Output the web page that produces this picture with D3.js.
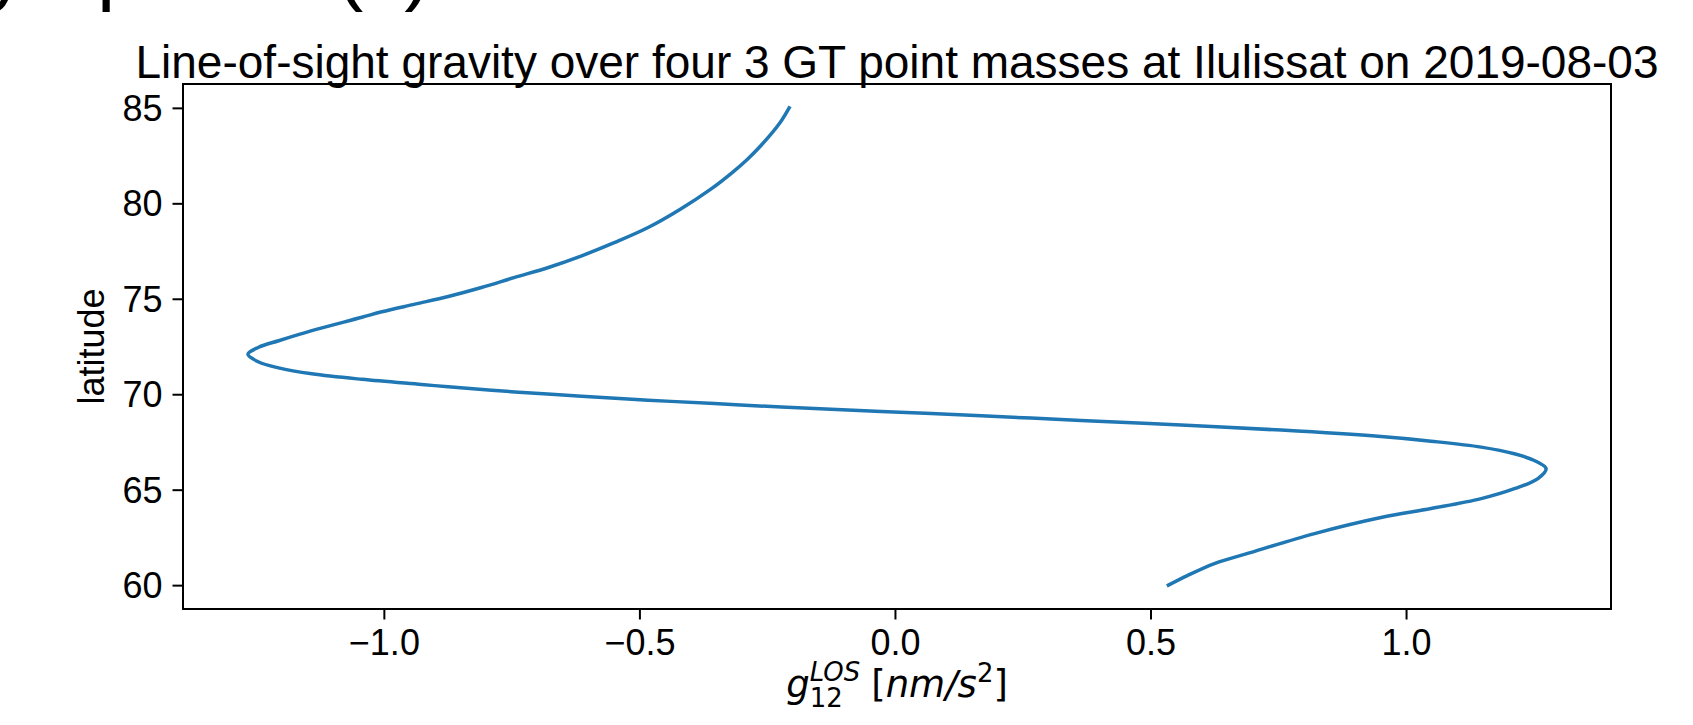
<!DOCTYPE html>
<html>
<head>
<meta charset="utf-8">
<script src="https://cdn.jsdelivr.net/npm/d3@7"></script>
<style>
  body { margin: 0; background: #fff; }
  svg { display: block; }
  .tick text { font-family: "Liberation Sans", Arial, sans-serif; fill: #000; }
</style>
</head>
<body>
<svg width="1693" height="725"></svg>
<script>
// latitude (deg) and line-of-sight gravity (nm/s^2)
const latitude = [60.0, 60.5, 61.13, 61.66, 62.7, 63.54, 64.01, 64.53, 65.05, 65.58, 66.1,
  66.53, 66.88, 67.23, 67.54, 67.78, 68.12, 68.39, 68.63, 68.87, 69.1, 69.33, 69.51, 69.69,
  69.9, 70.12, 70.39, 70.51, 70.78, 71.07, 71.38, 71.69, 72.09, 72.46, 72.8, 73.33, 74.03,
  74.32, 74.72, 75.12, 75.59, 76.12, 76.64, 77.25, 77.95, 78.73, 79.69, 80.73, 81.6, 82.3, 83.0,
  84.22, 85.0];
const gLos = [0.535, 0.572, 0.625, 0.69, 0.821, 0.951, 1.049, 1.147, 1.212, 1.258, 1.274,
  1.251, 1.212, 1.147, 1.049, 0.951, 0.756, 0.56, 0.364, 0.169, -0.027, -0.222, -0.353, -0.483,
  -0.613, -0.744, -0.874, -0.926, -1.043, -1.141, -1.206, -1.245, -1.266, -1.245, -1.206, -1.141, -1.043,
  -1.004, -0.939, -0.874, -0.809, -0.744, -0.678, -0.613, -0.548, -0.483, -0.42, -0.361, -0.319, -0.289, -0.263,
  -0.225, -0.207];

const xTicks = [-1.0, -0.5, 0.0, 0.5, 1.0];
const yTicks = [60, 65, 70, 75, 80, 85];
const titleText = "Line-of-sight gravity over four 3 GT point masses at Ilulissat on 2019-08-03";

const svg = d3.select("svg");
const margin = { top: 84, right: 82, bottom: 116, left: 183 };
const width = 1693 - margin.left - margin.right;
const height = 725 - margin.top - margin.bottom;
const tickFont = 36;

// matplotlib-like 5% padding on both axes
const xExt = d3.extent(gLos);
const xPad = (xExt[1] - xExt[0]) * 0.05;
const x = d3.scaleLinear().domain([xExt[0] - xPad, xExt[1] + xPad]).range([0, width]);
const yExt = d3.extent(latitude);
const yPad = (yExt[1] - yExt[0]) * 0.05;
const y = d3.scaleLinear().domain([yExt[0] - yPad, yExt[1] + yPad]).range([height, 0]);

const g = svg.append("g").attr("transform", `translate(${margin.left},${margin.top})`);

// cut-off heading above the figure (only descenders show)
svg.append("text")
  .attr("y", -4.7)
  .attr("font-family", "Liberation Sans, Arial, sans-serif")
  .attr("font-size", 82)
  .attr("fill", "#000")
  .call(t => {
    t.append("tspan").attr("x", -14).text("y");
    t.append("tspan").attr("x", 97).text("p");
    t.append("tspan").attr("x", 336).text("(c)");
  });

// axes
const xAxis = d3.axisBottom(x).tickValues(xTicks).tickFormat(d3.format(".1f")).tickSize(10.5).tickPadding(10);
const yAxis = d3.axisLeft(y).tickValues(yTicks).tickFormat(d3.format("d")).tickSize(10.5).tickPadding(10);

g.append("g").attr("transform", `translate(0,${height})`).call(xAxis)
  .call(a => a.select(".domain").remove())
  .call(a => a.selectAll(".tick line").attr("stroke", "#000").attr("stroke-width", 2))
  .call(a => a.selectAll(".tick text").attr("font-size", tickFont));

g.append("g").call(yAxis)
  .call(a => a.select(".domain").remove())
  .call(a => a.selectAll(".tick line").attr("stroke", "#000").attr("stroke-width", 2))
  .call(a => a.selectAll(".tick text").attr("font-size", tickFont).attr("dy", "0.35em"));

// data line
const line = d3.line()
  .x((d, i) => x(gLos[i]))
  .y(d => y(d))
  .curve(d3.curveCatmullRom.alpha(0.5));

g.append("path")
  .datum(latitude)
  .attr("d", line)
  .attr("fill", "none")
  .attr("stroke", "#1f77b4")
  .attr("stroke-width", 3.5)
  .attr("stroke-linecap", "square");

// frame
g.append("rect")
  .attr("width", width).attr("height", height)
  .attr("fill", "none").attr("stroke", "#000").attr("stroke-width", 2);

// title
g.append("text")
  .attr("x", width / 2).attr("y", -6)
  .attr("text-anchor", "middle")
  .attr("font-family", "Liberation Sans, Arial, sans-serif")
  .attr("font-size", 46)
  .text(titleText);

// y label
g.append("text")
  .attr("transform", `translate(${104 - margin.left},${height / 2}) rotate(-90)`)
  .attr("text-anchor", "middle")
  .attr("font-family", "Liberation Sans, Arial, sans-serif")
  .attr("font-size", tickFont)
  .text("latitude");

// x label, built piece by piece like mathtext: g_12^LOS [nm/s^2]
const xl = g.append("g");
const lf = 37;
let cx = 0;
function piece(txt, size, dy, italic, advance) {
  const t = xl.append("text")
    .attr("x", cx).attr("y", dy)
    .attr("font-family", "DejaVu Sans, sans-serif")
    .attr("font-size", size)
    .attr("font-style", italic ? "italic" : "normal")
    .text(txt);
  const w = t.node().getComputedTextLength();
  if (advance) cx += w;
  return w;
}
piece("g", lf, 0, true, true);
const wSub = piece("12", lf * 0.7, 10, false, false);
const wSup = piece("LOS", lf * 0.7, -16, true, false);
cx += Math.max(wSub, wSup);
cx += lf * 0.3;
piece("[", lf, 0, false, true);
piece("nm/s", lf, 0, true, true);
piece("2", lf * 0.7, -15, false, true);
piece("]", lf, 0, false, true);
xl.attr("transform", `translate(${width / 2 - cx / 2},${height + 88})`);
</script>
</body>
</html>
